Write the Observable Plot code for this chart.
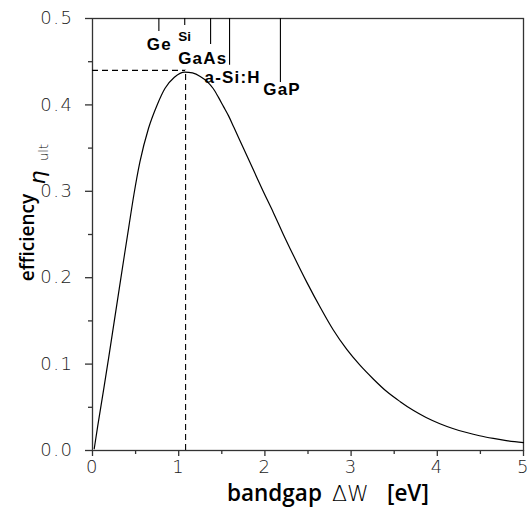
<!DOCTYPE html>
<html><head><meta charset="utf-8">
<script src="https://cdn.jsdelivr.net/npm/d3@7"></script>
<script src="https://cdn.jsdelivr.net/npm/@observablehq/plot@0.6"></script>
<style>
html,body{margin:0;padding:0;background:#fff;}
#chart svg{display:block;}
g[aria-label="y-axis tick label"] text, g[aria-label="x-axis tick label"] text{letter-spacing:1.5px;}
g.matlabel text{letter-spacing:1.2px;}
</style></head><body><div id="chart"></div>
<script>
// Ultimate efficiency vs bandgap
const bandgap = [0.02, 0.06, 0.13, 0.19, 0.25, 0.31, 0.37, 0.42, 0.48, 0.55, 0.65, 0.75, 0.84, 0.95, 1.07, 1.16, 1.25, 1.33, 1.40, 1.46, 1.52, 1.58, 1.64, 1.75, 1.87, 1.98, 2.10, 2.21, 2.33, 2.49, 2.64, 2.79, 2.95, 3.10, 3.26, 3.41, 3.57, 3.72, 3.87, 4.03, 4.18, 4.34, 4.49, 4.65, 4.80, 5.0];
const efficiency = [0.002, 0.028, 0.071, 0.109, 0.148, 0.187, 0.226, 0.258, 0.296, 0.334, 0.373, 0.400, 0.419, 0.432, 0.438, 0.437, 0.433, 0.427, 0.419, 0.409, 0.398, 0.387, 0.374, 0.350, 0.324, 0.300, 0.275, 0.251, 0.226, 0.194, 0.166, 0.140, 0.117, 0.099, 0.0825, 0.0685, 0.0565, 0.0465, 0.0382, 0.0310, 0.0255, 0.0208, 0.0171, 0.0140, 0.0115, 0.0092];

const optimumGap = 1.08;
const optimumEff = 0.44;

const materials = ["Ge", "Si", "GaAs", "a-Si:H", "GaP"];
const materialGap = [0.77, 1.07, 1.37, 1.59, 2.18];
const markerBottom = [0.485, 0.492, 0.470, 0.446, 0.426];
const labelX = [0.775, 1.07, 1.279, 1.626, 2.199];
const labelY = [0.463, 0.4734, 0.4476, 0.4252, 0.412];

const xMajor = [0, 1, 2, 3, 4, 5];
const xMinor = [0.5, 1.5, 2.5, 3.5, 4.5];
const yMajor = [0, 0.1, 0.2, 0.3, 0.4, 0.5];
const yMinor = [0.05, 0.15, 0.25, 0.35, 0.45];

const xLabelParts = ["bandgap", "\u0394W", "[eV]"];
const yLabelParts = ["efficiency", "\u03B7", "ult"];

const curve = bandgap.map((x, i) => ({x, y: efficiency[i]}));
const markers = materials.map((m, i) => ({name: m, x: materialGap[i], y2: markerBottom[i], lx: labelX[i], ly: labelY[i]}));

const axisColor = "#333";
const tickFont = "'DejaVu Sans', sans-serif";
const labelFont = "'Open Sans', sans-serif";
const markFont = "'Liberation Sans', Arial, sans-serif";

const plot = Plot.plot({
  width: 528, height: 509,
  marginLeft: 92, marginRight: 5, marginTop: 18, marginBottom: 59,
  x: {domain: [0, 5]},
  y: {domain: [0, 0.5]},
  style: {background: "white", color: axisColor, overflow: "visible"},
  marks: [
    Plot.axisX({ticks: xMajor, tickSize: 6, tickPadding: 4, tickFormat: d3.format("d"), fontSize: 18, fontWeight: 200, fontFamily: tickFont, label: null, strokeWidth: 1.3, fill: "#222"}),
    Plot.axisX({ticks: xMinor, tickSize: 4, tickFormat: () => "", label: null, strokeWidth: 1.3}),
    Plot.axisY({ticks: yMajor, tickSize: 7, tickPadding: 12, tickFormat: d3.format(".1f"), fontSize: 18, fontWeight: 200, fontFamily: tickFont, label: null, strokeWidth: 1.3, fill: "#222"}),
    Plot.axisY({ticks: yMinor, tickSize: 4, tickFormat: () => "", label: null, strokeWidth: 1.3}),
    Plot.frame({stroke: axisColor, strokeWidth: 1.3}),
    Plot.ruleY([optimumEff], {x1: 0, x2: optimumGap, stroke: "black", strokeWidth: 1.1, strokeDasharray: "6,4"}),
    Plot.ruleX([optimumGap], {y1: 0, y2: optimumEff, stroke: "black", strokeWidth: 1.1, strokeDasharray: "6,4"}),
    Plot.line(curve, {x: "x", y: "y", stroke: "black", strokeWidth: 1.2, curve: "monotone-x"}),
    Plot.ruleX(markers, {x: "x", y1: 0.5, y2: "y2", stroke: "black", strokeWidth: 1.1}),
    Plot.text(markers.filter(d => d.name !== "Si"), {x: "lx", y: "ly", text: "name", className: "matlabel", fontSize: 17, fontWeight: "bold", fontFamily: markFont, lineAnchor: "bottom", textAnchor: "middle", fill: "black"}),
    Plot.text(markers.filter(d => d.name === "Si"), {x: "lx", y: "ly", text: "name", fontSize: 13.5, fontWeight: "bold", fontFamily: markFont, lineAnchor: "bottom", textAnchor: "middle", fill: "black"}),
    // x-axis label
    Plot.text([xLabelParts[0]], {frameAnchor: "bottom", text: d => d, textAnchor: "start", lineAnchor: "bottom", dx: -81, dy: 50, fontSize: 22.5, fontWeight: 600, fontFamily: labelFont, fill: "black"}),
    Plot.text([xLabelParts[1]], {frameAnchor: "bottom", text: d => d, textAnchor: "start", lineAnchor: "bottom", dx: 24, dy: 50, fontSize: 22, fontWeight: 300, fontFamily: tickFont, fill: "black"}),
    Plot.text([xLabelParts[2]], {frameAnchor: "bottom", text: d => d, textAnchor: "start", lineAnchor: "bottom", dx: 79, dy: 50, fontSize: 22.5, fontWeight: 600, fontFamily: labelFont, fill: "black"}),
    // y-axis label
    Plot.text([yLabelParts[0]], {frameAnchor: "left", text: d => d, rotate: -90, textAnchor: "middle", lineAnchor: "bottom", dx: -59, dy: 3, fontSize: 19, fontWeight: 600, fontFamily: labelFont, fill: "black"}),
    Plot.text([yLabelParts[1]], {frameAnchor: "left", text: d => d, rotate: -90, textAnchor: "middle", lineAnchor: "bottom", dx: -48, dy: -57, fontSize: 22, fontWeight: 200, fontStyle: "italic", fontFamily: tickFont, fill: "black"}),
    Plot.text([yLabelParts[2]], {frameAnchor: "left", text: d => d, rotate: -90, textAnchor: "middle", lineAnchor: "bottom", dx: -45, dy: -82, fontSize: 13, fontWeight: 200, fontFamily: tickFont, fill: "black"})
  ]
});
document.getElementById("chart").appendChild(plot);
</script>
</body></html>
